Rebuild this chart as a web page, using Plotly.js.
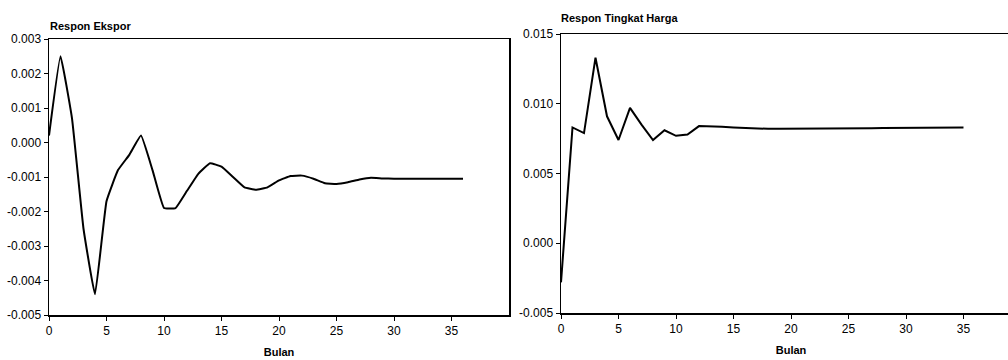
<!DOCTYPE html>
<html><head><meta charset="utf-8">
<script src="https://cdn.plot.ly/plotly-3.0.1.min.js"></script>
<style>html,body{margin:0;padding:0;overflow:hidden;background:#fff;}#chart{width:1022px;height:360px;}</style>
</head><body><div id="chart"></div>
<script>
var bulanEkspor = [];
for (var i = 0; i <= 36; i++) bulanEkspor.push(i);
var responEkspor = [0.0002, 0.0025, 0.0007, -0.0025, -0.0044, -0.0017, -0.0008, -0.00035, 0.0002, -0.0008,
  -0.0019, -0.0019, -0.0014, -0.0009, -0.0006, -0.0007, -0.0010, -0.0013, -0.00137, -0.0013,
  -0.0011, -0.00097, -0.00096, -0.00105, -0.00118, -0.0012, -0.00115, -0.00107, -0.00102, -0.00104,
  -0.00105, -0.00105, -0.00105, -0.00105, -0.00105, -0.00105, -0.00105];
var bulanHarga = [];
for (var j = 0; j <= 35; j++) bulanHarga.push(j);
var responHarga = [-0.0028, 0.0083, 0.0079, 0.0133, 0.0091, 0.0074, 0.0097, 0.0085, 0.0074, 0.0081,
  0.0077, 0.0078, 0.0084, 0.0084, 0.00835, 0.0083, 0.00825, 0.0082, 0.0082, 0.0082,
  0.0082, 0.0082, 0.0082, 0.0082, 0.0082, 0.00822, 0.00824, 0.00825, 0.00826, 0.00827,
  0.00828, 0.00829, 0.0083, 0.0083, 0.0083, 0.0083];
var xTicks = [0, 5, 10, 15, 20, 25, 30, 35];
var yTicksEkspor = [-0.005, -0.004, -0.003, -0.002, -0.001, 0, 0.001, 0.002, 0.003];
var yLabelsEkspor = ["-0.005", "-0.004", "-0.003", "-0.002", "-0.001", "0.000", "0.001", "0.002", "0.003"];
var yTicksHarga = [-0.005, 0, 0.005, 0.010, 0.015];
var yLabelsHarga = ["-0.005", "0.000", "0.005", "0.010", "0.015"];
var titles = ["Respon Ekspor", "Respon Tingkat Harga"];
var xTitle = "Bulan";

var W = 1022, H = 360;
var font = {family: "Liberation Sans, Arial, sans-serif", size: 12, color: "#000"};
function xd(a, b) { return [a / W, b / W]; }
function yd(top, bottom) { return [1 - bottom / H, 1 - top / H]; }

var traces = [
  {x: bulanEkspor, y: responEkspor, type: "scatter", mode: "lines", line: {color: "#000", width: 2, shape: "spline", smoothing: 0.3}, xaxis: "x", yaxis: "y", hoverinfo: "skip"},
  {x: bulanHarga, y: responHarga, type: "scatter", mode: "lines", line: {color: "#000", width: 2}, xaxis: "x2", yaxis: "y2", hoverinfo: "skip"}
];
function xax(dom, anchor, mirror) {
  return {domain: dom, anchor: anchor, range: [0, 40], tickvals: xTicks, ticks: "outside", ticklen: 4, tickwidth: 1,
    tickcolor: "#000", showline: true, linecolor: "#000", linewidth: 1.5, mirror: mirror, showgrid: false, zeroline: false,
    tickfont: font, title: {text: "<b>" + xTitle + "</b>", font: {family: font.family, size: 11, color: "#000"}, standoff: 11}};
}
function yax(dom, anchor, rng, tv, tt, mirror) {
  return {domain: dom, anchor: anchor, range: rng, tickvals: tv, ticktext: tt, ticks: "outside", ticklen: 4, tickwidth: 1,
    tickcolor: "#000", showline: true, linecolor: "#000", linewidth: 1.5, mirror: mirror, showgrid: false, zeroline: false,
    tickfont: font};
}
var layout = {
  width: W, height: H, margin: {l: 0, r: 0, t: 0, b: 0}, showlegend: false,
  paper_bgcolor: "#fff", plot_bgcolor: "#fff", font: font,
  xaxis: xax(xd(49, 509), "y", true),
  yaxis: yax(yd(39, 315), "x", [-0.005, 0.003], yTicksEkspor, yLabelsEkspor, true),
  xaxis2: xax(xd(561, 1021), "y2", true),
  yaxis2: yax(yd(34, 313), "x2", [-0.005, 0.015], yTicksHarga, yLabelsHarga, true),
  annotations: [
    {text: "<b>" + titles[0] + "</b>", xref: "paper", yref: "paper", x: 48 / W, y: 1 - 26 / H, xanchor: "left", yanchor: "middle", showarrow: false, font: {family: font.family, size: 11, color: "#000"}},
    {text: "<b>" + titles[1] + "</b>", xref: "paper", yref: "paper", x: 559 / W, y: 1 - 18 / H, xanchor: "left", yanchor: "middle", showarrow: false, font: {family: font.family, size: 11, color: "#000"}}
  ]
};
Plotly.newPlot("chart", traces, layout, {staticPlot: true, displayModeBar: false});
</script></body></html>
